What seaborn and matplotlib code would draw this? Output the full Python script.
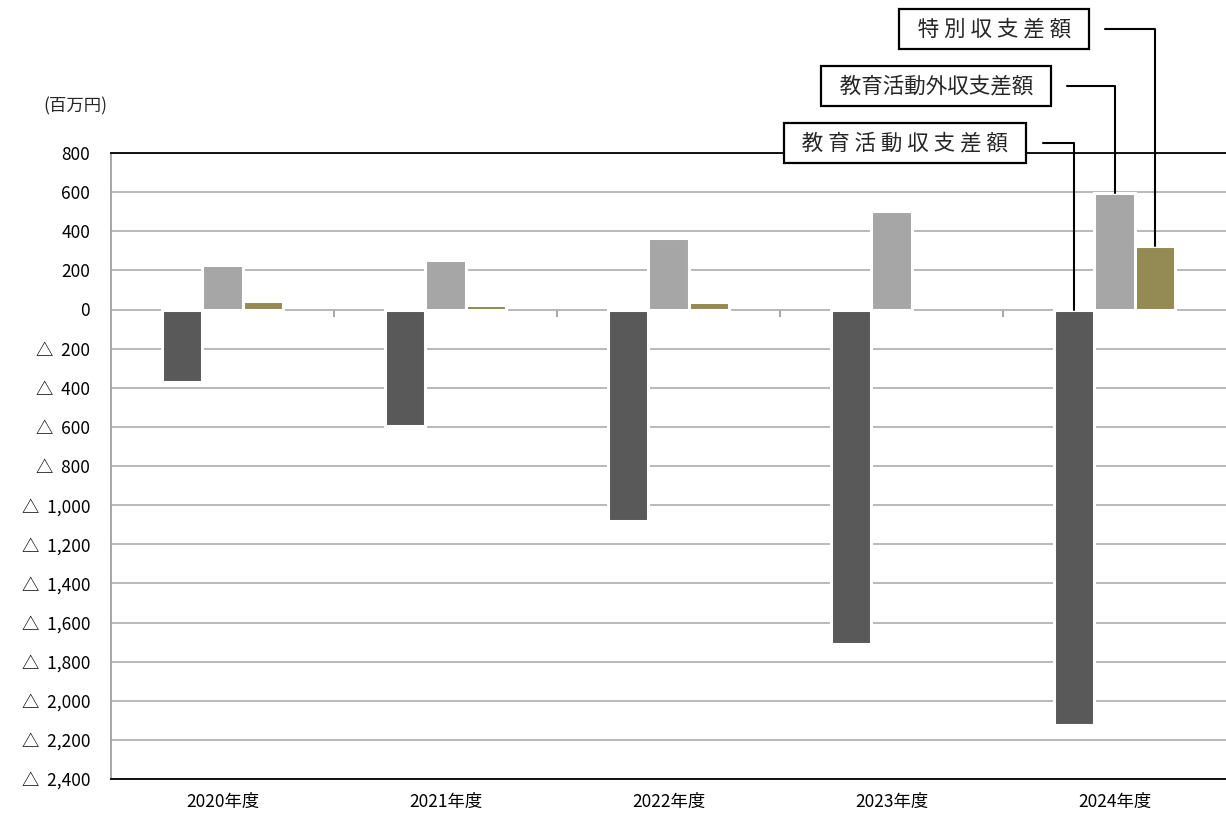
import matplotlib
matplotlib.use("Agg")
import matplotlib.pyplot as plt
import matplotlib.ticker as mticker
import seaborn as sns
import pandas as pd

years = ["2020年度", "2021年度", "2022年度", "2023年度", "2024年度"]
series_names = ["教育活動収支差額", "教育活動外収支差額", "特別収支差額"]
edu_activity = [-370, -595, -1080, -1708, -2123]
non_edu_activity = [230, 255, 368, 506, 598]
special = [45, 25, 40, 0, 327]
label_texts = ["  教 育 活 動 収 支 差 額  ", "  教育活動外収支差額  ", "  特 別 収 支 差 額  "]
unit_label = "(百万円)"
colors = ["#595959", "#a6a6a6", "#948a54"]

df = pd.DataFrame({
    "year": years * 3,
    "series": [series_names[0]] * 5 + [series_names[1]] * 5 + [series_names[2]] * 5,
    "value": edu_activity + non_edu_activity + special,
})

sns.set_style("white")
plt.rcParams["font.family"] = ["Noto Sans CJK JP", "DejaVu Sans"]

W, H = 1226, 818
fig = plt.figure(figsize=(W / 100, H / 100), dpi=100)
ax = fig.add_axes([111 / W, 1 - 779 / H, (W - 111) / W, (779 - 153) / H])

sns.barplot(data=df, x="year", y="value", hue="series", hue_order=series_names,
            palette=colors, width=0.54, ax=ax, legend=False,
            edgecolor="white", linewidth=2.2, saturation=1)

# no white outline for empty bars
for cont in ax.containers:
    for p in cont.patches:
        if p.get_height() == 0:
            p.set_linewidth(0)

ax.set_ylim(-2400, 800)
ax.set_yticks(range(-2400, 801, 200))
ax.set_xlim(-0.5, 4.5)

def fmt(v, pos):
    v = int(round(v))
    if v < 0:
        return "△  " + f"{-v:,}"
    return f"{v:,}"

ax.yaxis.set_major_formatter(mticker.FuncFormatter(fmt))
ax.tick_params(axis="y", length=0, pad=15, labelsize=12.5, labelcolor="black")
ax.tick_params(axis="x", length=0, pad=10, labelsize=12.5, labelcolor="black")
ax.set_xlabel("")
ax.set_ylabel("")
ax.yaxis.grid(True, color="#b3b3b3", linewidth=1.3)
ax.set_axisbelow(True)

for s in ["top", "bottom"]:
    ax.spines[s].set_visible(True)
    ax.spines[s].set_color("black")
    ax.spines[s].set_linewidth(1.3)
ax.spines["left"].set_color("#a0a0a0")
ax.spines["left"].set_linewidth(1.3)
ax.spines["right"].set_visible(False)

# category separator ticks on the zero line
sec = ax.secondary_xaxis(2400 / 3200)
sec.set_xticks([0.5, 1.5, 2.5, 3.5])
sec.set_xticklabels([])
sec.tick_params(direction="in", length=6, color="#a0a0a0", width=1.3)
sec.spines["bottom"].set_visible(False)
sec.spines["top"].set_visible(False)

fig.text(75 / W, 1 - 106 / H, unit_label, ha="center", va="center", fontsize=12.5)

# leader labels pointing to last-year bars
text_pos = [(905, H - 143), (936, H - 86), (994, H - 29)]
for i, cont in enumerate(ax.containers):
    p = cont.patches[-1]
    xc = p.get_x() + p.get_width() / 2
    top = max(p.get_y(), p.get_y() + p.get_height())
    ax.annotate(label_texts[i], xy=(xc, top), xycoords="data",
                xytext=text_pos[i], textcoords="figure pixels",
                ha="center", va="center", fontsize=15.5,
                bbox=dict(boxstyle="square,pad=0.4", fc="white", ec="black", lw=1.6),
                arrowprops=dict(arrowstyle="-", color="black", lw=1.5,
                                connectionstyle="angle,angleA=0,angleB=90,rad=0",
                                relpos=(1, 0.5), shrinkA=11, shrinkB=0),
                annotation_clip=False)

fig.savefig("out.png", dpi=100)
